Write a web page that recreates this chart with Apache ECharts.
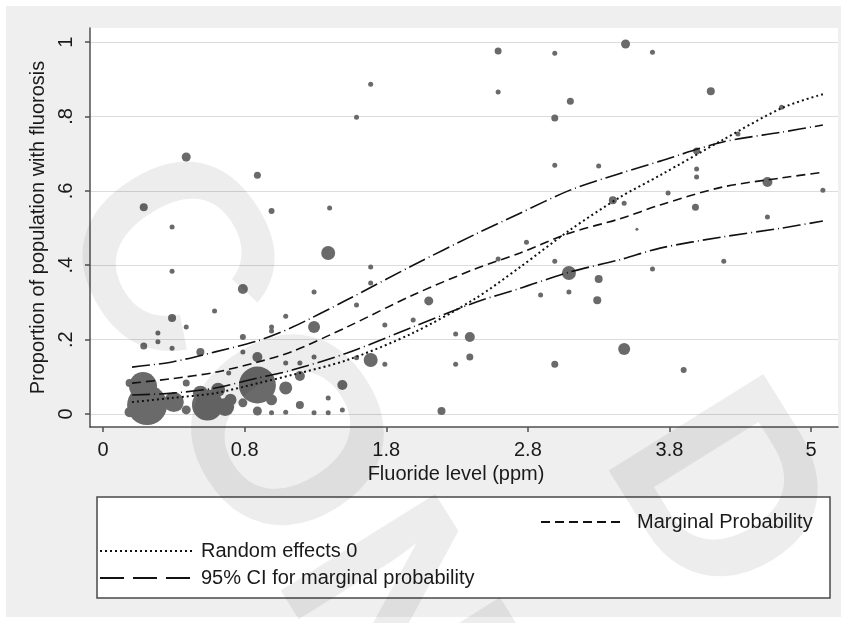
<!DOCTYPE html>
<html><head><meta charset="utf-8">
<script src="https://cdn.jsdelivr.net/npm/echarts@6/dist/echarts.min.js"></script>
<style>html,body{margin:0;padding:0;background:#fff}#c{width:847px;height:623px}</style>
</head><body><div id="c"></div>
<script>
// ---- tick labels ----
const xTickValues = [0, 0.8, 1.8, 2.8, 3.8, 5];          // ppm at each labelled tick
const xTickLabels = ['0', '0.8', '1.8', '2.8', '3.8', '5'];
const yTickValues = [0, 0.2, 0.4, 0.6, 0.8, 1];
const yTickLabels = ['0', '.2', '.4', '.6', '.8', '1'];

// ---- observed communities: fluoride (ppm), proportion with fluorosis, population weight ----
const fluoride = [0.23,0.39,0.99,0.39,0.79,0.63,1.09,0.39,0.47,0.31,0.31,0.23,0.39,0.79,0.99,0.99,0.55,0.79,0.89,1.09,
  0.71,0.47,0.47,0.79,0.89,0.99,1.09,1.09,0.99,0.15,0.15,0.226,0.249,0.40,0.59,0.55,0.65,0.69,0.72,0.89,
  1.19,1.19,1.19,1.29,1.29,1.29,1.29,1.39,1.39,1.39,1.49,1.49,1.59,1.59,1.69,1.69,1.69,1.79,1.79,1.99,
  2.10,2.19,2.29,2.39,2.39,2.29,1.40,0.47,0.89,1.59,1.69,2.59,2.99,3.49,3.68,2.59,3.10,2.99,2.99,3.30,
  3.40,3.48,2.79,2.59,2.99,3.09,3.30,3.68,2.89,3.09,3.29,3.48,2.99,4.15,4.75,4.03,4.38,4.03,4.03,3.79,
  4.02,4.63,5.10,4.63,4.26,3.92,3.57];
const proportion = [0.556,0.503,0.546,0.384,0.336,0.277,0.263,0.258,0.234,0.218,0.194,0.183,0.177,0.207,0.234,0.223,0.167,0.167,0.153,0.137,
  0.110,0.083,0.011,0.030,0.008,0.003,0.070,0.005,0.038,0.083,0.005,0.075,0.024,0.032,0.024,0.056,0.065,0.019,0.038,0.078,
  0.137,0.102,0.024,0.328,0.234,0.153,0.003,0.433,0.043,0.003,0.078,0.011,0.293,0.151,0.395,0.352,0.145,0.239,0.134,0.253,
  0.304,0.008,0.215,0.207,0.153,0.134,0.554,0.691,0.642,0.798,0.887,0.976,0.970,0.995,0.973,0.866,0.841,0.796,0.669,0.667,
  0.575,0.567,0.462,0.417,0.411,0.379,0.363,0.390,0.320,0.328,0.306,0.175,0.134,0.868,0.825,0.707,0.753,0.659,0.637,0.594,
  0.556,0.624,0.602,0.530,0.411,0.118,0.497];
const population = [64,25,36,25,100,25,25,64,25,25,25,49,25,36,25,25,64,25,100,25,
  25,49,81,81,81,25,169,25,121,64,100,784,1600,400,961,225,196,324,144,1369,
  25,100,64,25,144,25,25,196,25,25,100,25,25,25,25,25,196,25,25,25,
  81,64,25,100,49,25,25,81,49,25,25,49,25,81,25,25,49,49,25,25,
  64,25,25,25,25,196,64,25,25,25,64,144,49,64,25,49,25,25,25,25,
  49,100,25,25,25,36,9];

// ---- fitted curves ----
const curveFluoride  = [0.164,0.39,0.633,0.895,1.135,1.523,1.989,2.427,2.745,3.098,3.451,3.734,4.245,4.754,5.10];
const marginalProb   = [0.083,0.095,0.112,0.140,0.168,0.234,0.320,0.390,0.433,0.487,0.525,0.562,0.610,0.635,0.650];
const ciUpper        = [0.126,0.140,0.167,0.197,0.233,0.307,0.400,0.483,0.540,0.602,0.647,0.680,0.731,0.758,0.777];
const ciLower        = [0.051,0.056,0.070,0.097,0.118,0.164,0.234,0.300,0.338,0.382,0.415,0.446,0.476,0.500,0.519];
const randomEffects0 = [0.032,0.043,0.056,0.083,0.105,0.145,0.218,0.310,0.395,0.495,0.583,0.642,0.736,0.823,0.860];

// watermark letters (large, faint, rotated)
const watermarkLetters = ['C', 'O', 'N', 'D'];

// The x axis is drawn with its labelled ticks equally spaced; map ppm to tick-index position.
function axisPos(ppm) {
  let i = 0;
  while (i < xTickValues.length - 2 && ppm > xTickValues[i + 1]) i++;
  return i + (ppm - xTickValues[i]) / (xTickValues[i + 1] - xTickValues[i]);
}
const pts = fluoride.map((f, i) => [axisPos(f), proportion[i], population[i]]);
const curve = arr => curveFluoride.map((f, i) => [axisPos(f), arr[i]]);

const FONT = "'Liberation Sans', Arial, sans-serif";
const lineSeries = (name, data, dash, width) => ({
  type: 'line', name, data: curve(data), showSymbol: false, symbol: 'none', smooth: 0.3,
  lineStyle: { color: '#111', width, type: dash }, itemStyle: { color: '#111' }, z: 5, silent: true
});

const wmPos = [[160, 262], [272, 440], [384, 618], [712, 498]];
const wmRot = -58 * Math.PI / 180;
const watermark = watermarkLetters.map((ch, i) => ({
  type: 'text', x: wmPos[i][0], y: wmPos[i][1], rotation: wmRot, z: 100, silent: true,
  style: { text: ch, font: "bold 265px 'Liberation Sans', Arial, sans-serif", fill: 'rgba(0,0,0,0.07)',
    align: 'center', verticalAlign: 'middle' }
}));

const chart = echarts.init(document.getElementById('c'), null, { renderer: 'canvas' });
chart.setOption({
  backgroundColor: '#ffffff',
  animation: false,
  textStyle: { fontFamily: FONT },
  graphic: [
    { type: 'rect', z: -10, shape: { x: 6, y: 6, width: 835, height: 611 }, style: { fill: '#efefef' }, silent: true },
    { type: 'rect', z: 1, shape: { x: 97, y: 497, width: 733, height: 101 }, style: { fill: '#ffffff', stroke: '#4a4a4a', lineWidth: 1.5 }, silent: true }
  ].concat(watermark),
  grid: { left: 90, right: 9, top: 28, bottom: 196, show: true, backgroundColor: '#ffffff', borderWidth: 0 },
  xAxis: {
    type: 'value', min: -0.092, max: 5.19,
    name: 'Fluoride level (ppm)', nameLocation: 'middle', nameGap: 34,
    nameTextStyle: { fontSize: 20, color: '#1a1a1a', fontFamily: FONT, padding: [0, 16, 0, 0] },
    axisLine: { show: true, onZero: false, lineStyle: { color: '#505050', width: 1.5 } },
    axisTick: { show: true, length: 5, customValues: [0, 1, 2, 3, 4, 5], lineStyle: { color: '#505050', width: 1.5 } },
    axisLabel: { customValues: [0, 1, 2, 3, 4, 5], margin: 13, fontSize: 20, color: '#1a1a1a', fontFamily: FONT,
      formatter: v => xTickLabels[Math.round(v)] },
    splitLine: { show: false }
  },
  yAxis: {
    type: 'value', min: -0.035, max: 1.038,
    name: 'Proportion of population with fluorosis', nameLocation: 'middle', nameGap: 36,
    nameTextStyle: { fontSize: 20, color: '#1a1a1a', fontFamily: FONT },
    axisLine: { show: true, onZero: false, lineStyle: { color: '#505050', width: 1.5 } },
    axisTick: { show: true, length: 5, customValues: yTickValues, lineStyle: { color: '#505050', width: 1.5 } },
    axisLabel: { customValues: yTickValues, rotate: 90, margin: 14, fontSize: 20, color: '#1a1a1a', fontFamily: FONT,
      formatter: v => yTickLabels[yTickValues.findIndex(t => Math.abs(t - v) < 1e-6)] },
    splitLine: { show: true, lineStyle: { color: '#dcdcdc', width: 1 } }
  },
  legend: [
    { data: ['Marginal Probability'], left: 540, top: 512, padding: 0, itemWidth: 81, itemHeight: 20,
      itemStyle: { opacity: 0 }, textStyle: { fontSize: 20, color: '#1a1a1a', fontFamily: FONT, padding: [0, 0, 0, 10] },
      selectedMode: false, z: 6 },
    { data: ['Random effects 0', { name: '95% CI for marginal probability', lineStyle: { type: [24, 9] } }],
      orient: 'vertical', left: 99, top: 541, padding: 0,
      itemGap: 7, itemWidth: 92, itemHeight: 20, itemStyle: { opacity: 0 },
      textStyle: { fontSize: 20, color: '#1a1a1a', fontFamily: FONT, padding: [0, 0, 0, 4] }, selectedMode: false, z: 6 }
  ],
  series: [
    { type: 'scatter', name: 'Observed', data: pts, symbolSize: d => Math.sqrt(d[2]),
      itemStyle: { color: '#6a6a6a', opacity: 1 }, z: 3, silent: true },
    lineSeries('Marginal Probability', marginalProb, [9, 5], 1.6),
    lineSeries('Random effects 0', randomEffects0, [2, 3], 2),
    lineSeries('95% CI for marginal probability', ciUpper, [18, 4, 1, 4], 1.6),
    lineSeries('95% CI for marginal probability', ciLower, [18, 4, 1, 4], 1.6)
  ]
});
</script></body></html>
